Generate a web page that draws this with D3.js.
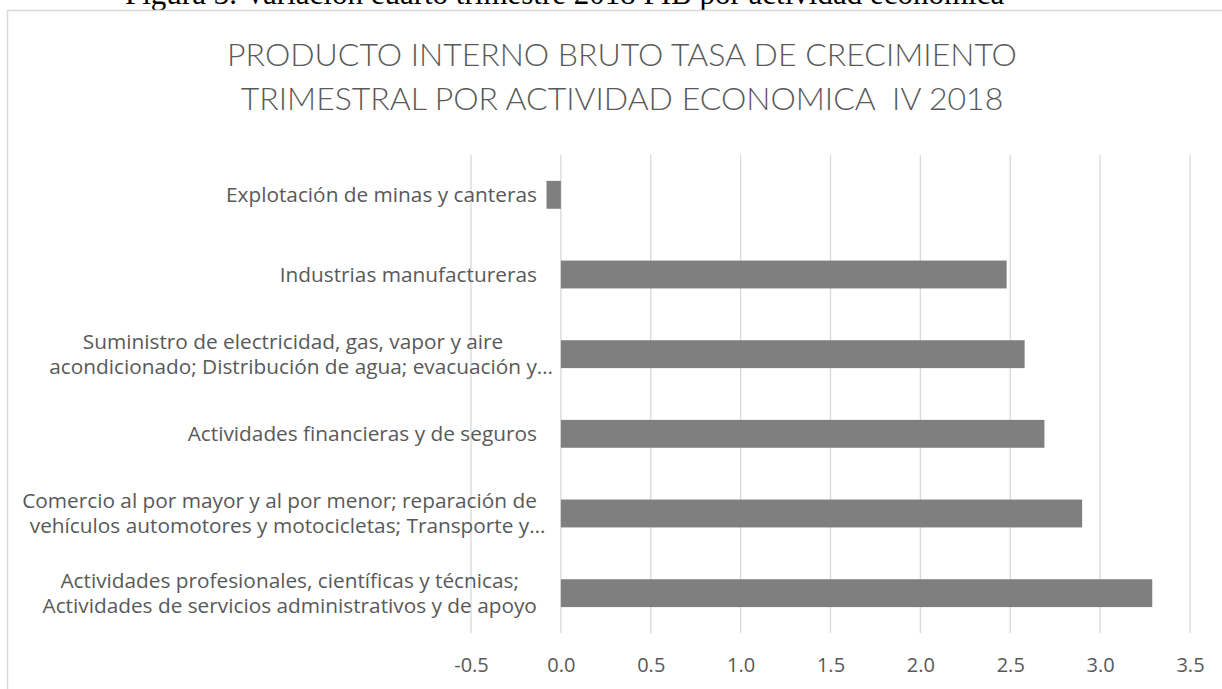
<!DOCTYPE html>
<html>
<head>
<meta charset="utf-8">
<script src="https://cdn.jsdelivr.net/npm/d3@7"></script>
<style>
  body { margin: 0; background: #fff; }
  svg { display: block; }
  text { white-space: pre; }
</style>
</head>
<body>
<svg id="chart"></svg>
<script>
// categories, top to bottom, as they are wrapped in the chart
const categoryLines = [
    ["Explotación de minas y canteras"],
    ["Industrias manufactureras"],
    ["Suministro de electricidad, gas, vapor y aire", "acondicionado; Distribución de agua; evacuación y…"],
    ["Actividades financieras y de seguros"],
    ["Comercio al por mayor y al por menor; reparación de", "vehículos automotores y motocicletas; Transporte y…"],
    ["Actividades profesionales, científicas y técnicas;", "Actividades de servicios administrativos y de apoyo"]
];
const growthRates = [-0.08, 2.48, 2.58, 2.69, 2.90, 3.29];
const tickValues = [-0.5, 0.0, 0.5, 1.0, 1.5, 2.0, 2.5, 3.0, 3.5];
const titleLines = ["PRODUCTO INTERNO BRUTO TASA DE CRECIMIENTO", "TRIMESTRAL POR ACTIVIDAD ECONOMICA  IV 2018"];
const captionText = "Figura 3. Variación cuarto trimestre 2018 PIB por actividad económica";

const W = 1222, H = 689;
const titleFont = "Lato, 'Open Sans', sans-serif";
const font = "'Open Sans', Lato, sans-serif";
const textColor = "#595959";

const svg = d3.select("#chart")
    .attr("width", W)
    .attr("height", H);

// caption of the document, cut by the top edge
svg.append("text")
    .attr("x", 125)
    .attr("y", 4)
    .attr("font-family", "'Liberation Serif', 'Times New Roman', serif")
    .attr("font-size", "31px")
    .attr("fill", "#000")
    .text(captionText);

// chart frame
svg.append("rect")
    .attr("x", 7.5)
    .attr("y", 10.5)
    .attr("width", 1240)
    .attr("height", 720)
    .attr("fill", "#fff")
    .attr("stroke", "#d9d9d9")
    .attr("stroke-width", 1.5);

// title
svg.append("g")
    .selectAll("text")
    .data(titleLines)
    .enter().append("text")
    .attr("x", 622)
    .attr("y", (d, i) => 66 + i * 44)
    .attr("text-anchor", "middle")
    .attr("font-family", titleFont)
    .attr("font-weight", 300)
    .attr("font-size", "32px")
    .attr("fill", textColor)
    .text(d => d);

const plot = { left: 471, right: 1190, top: 155, bottom: 633 };

const x = d3.scaleLinear()
    .domain([-0.5, 3.5])
    .range([plot.left, plot.right]);

const y = d3.scaleBand()
    .domain(d3.range(categoryLines.length))
    .range([plot.top, plot.bottom])
    .paddingInner(0.65)
    .paddingOuter(0.325);

// gridlines
svg.append("g")
    .selectAll("line")
    .data(tickValues)
    .enter().append("line")
    .attr("x1", d => x(d))
    .attr("x2", d => x(d))
    .attr("y1", plot.top)
    .attr("y2", plot.bottom)
    .attr("stroke", "#d9d9d9")
    .attr("stroke-width", 1.3);

// bars
svg.append("g")
    .selectAll("rect")
    .data(growthRates)
    .enter().append("rect")
    .attr("x", d => x(Math.min(0, d)))
    .attr("y", (d, i) => y(i))
    .attr("width", d => Math.abs(x(d) - x(0)))
    .attr("height", y.bandwidth())
    .attr("fill", "#7f7f7f");

// x axis labels
const xAxis = svg.append("g")
    .attr("transform", `translate(0,${plot.bottom})`)
    .call(d3.axisBottom(x).tickValues(tickValues).tickSize(0).tickFormat(d => d.toFixed(1)));
xAxis.select(".domain").remove();
xAxis.selectAll("text")
    .attr("y", 39)
    .attr("dy", null)
    .attr("font-family", font)
    .attr("font-size", "20px")
    .attr("fill", textColor);

// category labels: block right aligned next to the axis, lines centred in it
const labelRight = x(0) - 24;
const lineHeight = 25;
const labels = svg.append("g")
    .attr("font-family", font)
    .attr("font-size", "20.8px")
    .attr("fill", textColor);

categoryLines.forEach((lines, i) => {
    const cy = y(i) + y.bandwidth() / 2;
    const g = labels.append("g");
    const texts = lines.map((line, j) => g.append("text")
        .attr("y", cy + (j - (lines.length - 1) / 2) * lineHeight + 7)
        .text(line));
    // width of each line without the trailing ellipsis
    const core = lines.map((line, j) => {
        const t = texts[j].node();
        const n = line.endsWith("…") ? line.length - 1 : line.length;
        return t.getSubStringLength(0, n);
    });
    const blockW = d3.max(core);
    const centre = labelRight - blockW / 2;
    texts.forEach((t, j) => t.attr("x", centre - core[j] / 2));
});
</script>
</body>
</html>
